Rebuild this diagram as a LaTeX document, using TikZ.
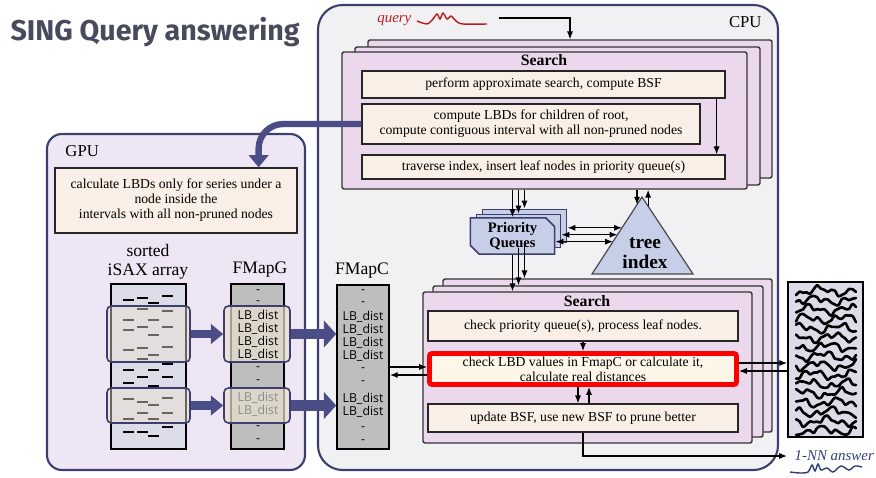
\documentclass[tikz,border=0pt]{standalone}
\usepackage{fontspec}
\setmainfont{Liberation Serif}
\newfontfamily\lbfont{Open Sans}
\newfontfamily\titlefont{Fira Sans}
\usetikzlibrary{arrows.meta,calc,fit,positioning,shapes.misc}

\definecolor{navy}{HTML}{3C3F6E}
\definecolor{arrownavy}{HTML}{4A4D86}
\definecolor{cpufill}{HTML}{F1F1F4}
\definecolor{gpufill}{HTML}{EEE6F4}
\definecolor{layerpink}{HTML}{EBD8EC}
\definecolor{peach}{HTML}{F9EFE6}
\definecolor{cream}{HTML}{FDF6E9}
\definecolor{qblue}{HTML}{C7CFE8}
\definecolor{barg}{HTML}{BEBEBE}
\definecolor{isaxfill}{HTML}{DCDCE9}
\definecolor{hlbeige}{HTML}{E9E1D0}
\definecolor{titlegray}{HTML}{4A4A5E}
\definecolor{qred}{HTML}{B71C1C}
\definecolor{nnblue}{HTML}{2E3F7C}

\begin{document}
\begin{tikzpicture}[x=0.02cm, y=-0.02cm, line width=0.7pt,
  >={Latex[length=4.5pt,width=3.5pt]}]
\newlength{\pxu}
\setlength{\pxu}{0.02cm}

\tikzset{
  hostbox/.style = {draw=navy, line width=1.2pt, inner sep=0pt},
  layer/.style = {draw=black!80, fill=layerpink, rounded corners=1.2pt,
    line width=0.8pt, inner sep=0pt},
  stepbox/.style = {draw=black!85, fill=peach, line width=0.7pt, inner sep=0pt,
    align=center, font=\fontsize{7.8}{8.5}\selectfont},
  ttl/.style = {font=\bfseries\fontsize{9}{9}\selectfont},
  lbl/.style = {font=\fontsize{10}{10.8}\selectfont, align=center},
  bar/.style = {draw=black, line width=0.9pt, inner sep=0pt},
  hl/.style = {draw=navy, rounded corners=2.5pt, line width=0.9pt,
    fill=hlbeige, fill opacity=0.45, inner sep=0pt},
  lbd/.style = {font=\lbfont\fontsize{7}{7}\selectfont, inner sep=0pt},
  isaxmark/.style = {line width=1.7pt},
  tsline/.style = {line width=1.5pt, line cap=round, line join=round},
  card/.style = {chamfered rectangle, chamfered rectangle xsep=2.5pt,
    chamfered rectangle ysep=2.5pt,
    chamfered rectangle corners={north east,south west},
    draw=navy, fill=qblue, line width=0.9pt, inner sep=0pt,
    minimum width=48pt, minimum height=19pt},
  bigarrow/.style = {draw=arrownavy, line width=5pt,
    -{Triangle[length=7pt,width=11pt]}}
}

\useasboundingbox (0,0) rectangle (876,477);

\node[anchor=base west, text=titlegray, inner sep=0pt,
  font=\titlefont\bfseries\fontsize{16.3}{16.3}\selectfont] (title) at (10,40)
  {SING Query answering};

% host frames
\node[hostbox, fill=cpufill, rounded corners=14pt, fit={(318,5) (778,470)}] (cpu) {};
\node[hostbox, fill=gpufill, rounded corners=8.5pt, fit={(47,134) (305,470)}] (gpu) {};
\node[anchor=east, font=\fontsize{9.5}{10}\selectfont] (cpulbl) at (768,22) {CPU};
\node[anchor=west, font=\fontsize{9.5}{10}\selectfont] (gpulbl) at (59,151) {GPU};

% upper search stack
\node[layer, fit={(368,40) (772,178)}] (srchb) {};
\node[layer, fit={(355,47) (760,185)}] (srchm) {};
\node[layer, fit={(342,52) (747,189)}] (srchf) {};
\node[ttl] (srchttl) at (544,60) {Search};
\node[stepbox, minimum width=363\pxu, minimum height=27\pxu] (approx) at (543.5,84.5)
  {perform approximate search, compute BSF};
\node[stepbox, minimum width=338\pxu, minimum height=40\pxu] (cmpint) at (531,124)
  {compute LBDs for children of root,\\compute contiguous interval with all non-pruned nodes};
\node[stepbox, minimum width=363\pxu, minimum height=24\pxu] (trav) at (543.5,167)
  {traverse index, insert leaf nodes in priority queue(s)};
\coordinate (bsfdrop) at ($(approx.south east)+(-9,0)$);
\draw[->] (bsfdrop) -- (bsfdrop |- trav.north);

% query
\node[anchor=west, text=qred, inner sep=1pt,
  font=\itshape\fontsize{8.5}{9}\selectfont] (query) at (375,21) {query};
\draw[qred, line width=0.8pt] plot[smooth] coordinates {(417,21) (427,24) (433,19)
  (437,14) (440,19) (443,13) (447,19) (451,16) (456,21) (463,24) (487,24)};
\coordinate (qsrc) at (499,18);
\draw[->] (qsrc) -| (srchb.north);

% tree index
\coordinate (apex) at (642,197);
\coordinate (bl) at (592,274);
\coordinate (br) at (693,274);
\draw[fill=qblue, draw=black!70] (apex) -- (bl) -- (br) -- cycle;
\node[font=\bfseries\fontsize{11}{11.3}\selectfont, align=center] (tree) at (645,253)
  {tree\\index};
\coordinate (tin) at ($(apex)!0.1!(bl)$);
\coordinate (tout) at ($(apex)!0.12!(br)$);
\draw[->] (tin |- srchf.south) -- (tin);
\draw[->] (tout) -- (tout |- srchf.south);

% priority queues
\node[card] (pqb) at (524.5,226) {};
\node[card] (pqm) at (518.5,231) {};
\node[card, align=center, font=\bfseries\fontsize{8.3}{8.5}\selectfont] (pqf) at (512.5,236)
  {Priority\\Queues};
\foreach \c in {pqf,pqm,pqb}
  \draw[->] (srchf.south -| \c.north) -- (\c.north);
\coordinate (t1) at ($(apex)!0.40!(bl)$);
\coordinate (t2) at ($(apex)!0.49!(bl)$);
\coordinate (t3) at ($(apex)!0.58!(bl)$);
\draw[<->] (t1 -| pqb.east) -- (t1);
\draw[<->] (t2 -| pqm.east) -- (t2);
\draw[<->] (t3 -| pqf.east) -- (t3);

% lower search stack
\node[layer, fit={(443,279) (772,432)}] (lsrchb) {};
\node[layer, fit={(433,286) (763,437)}] (lsrchm) {};
\node[layer, fit={(423,292) (752,443)}] (lsrchf) {};
\foreach \c/\d in {pqf/lsrchf,pqm/lsrchm,pqb/lsrchb}
  \draw[->] (\c.south) -- (\c.south |- \d.north);
\node[ttl] (lsrchttl) at (587,301) {Search};
\node[stepbox, minimum width=310\pxu, minimum height=30\pxu] (chkpq) at (583,326)
  {check priority queue(s), process leaf nodes.};
\node[stepbox, fill=cream, draw=red, line width=2.8pt, rounded corners=1.5pt,
  minimum width=307\pxu, minimum height=31\pxu] (chklbd) at (583,369)
  {check LBD values in FmapC or calculate it,\\calculate real distances};
\node[stepbox, minimum width=310\pxu, minimum height=28\pxu] (upd) at (583,418)
  {update BSF, use new BSF to prune better};
\draw[->] (chkpq) -- (chklbd);
\coordinate (dn) at ($(upd.north)+(-5,0)$);
\coordinate (up) at ($(upd.north)+(6,0)$);
\draw[->] (dn |- chklbd.south) -- (dn);
\draw[->] (up) -- (up |- chklbd.south);

% answer
\node[anchor=west, text=nnblue, inner sep=4pt,
  font=\itshape\fontsize{8.5}{9}\selectfont] (nn) at (787,456) {1-NN answer};
\draw[->] (upd.south) |- (nn.west);
\draw[nnblue, line width=0.8pt] plot[smooth] coordinates {(790,472) (800,473) (808,472)
  (812,465) (815,471) (818,464) (821,470) (827,468) (833,472) (841,466) (849,470)
  (855,466) (862,467)};

% raw series
\node[bar, fill=isaxfill, fit={(788,282) (863,437)}] (raw) {};
\foreach \k in {0,...,15} {
  \pgfmathsetmacro\yb{291+9.3*\k}
  \draw[tsline] plot[smooth, domain=796:856, samples=18]
    (\x, {\yb+3*sin(9*(\x-790)+47*\k)+2.4*sin(23*(\x-790)+113*\k)+1.2*sin(61*(\x-790)+29*\k)});
}
\coordinate (toraw) at ($(chklbd.east)+(0,-6)$);
\coordinate (fromraw) at ($(chklbd.east)+(0,2)$);
\draw[->] (toraw) -- (toraw -| raw.west);
\draw[->] (fromraw -| raw.west) -- (fromraw);

% FMapC
\node[bar, fill=barg, fit={(337,285) (389,449)}] (fmapc) {};
\node[lbl] (fmapclbl) at (362,271) {FMapC};
\foreach \y/\t in {292/-,304/-,317/LB\_dist,330/LB\_dist,343/LB\_dist,356/LB\_dist,
  370/-,383/-,399/LB\_dist,412/LB\_dist,429/-,442/-}
  \node[lbd] at (363,\y) {\t};
\coordinate (tolbd) at ($(chklbd.west)+(0,-2)$);
\coordinate (fromlbd) at ($(chklbd.west)+(0,6)$);
\draw[->] (tolbd -| fmapc.east) -- (tolbd);
\draw[->] (fromlbd) -- (fromlbd -| fmapc.east);

% GPU side
\node[stepbox, minimum width=242\pxu, minimum height=65\pxu] (gtxt) at (176,200.5)
  {calculate LBDs only for series under a\\node inside the\\intervals with all non-pruned nodes};
\coordinate (gin) at ($(gtxt.north east)+(-39,0)$);
\draw[bigarrow, line width=3.6pt, rounded corners=14pt] (cmpint.west) -| (gin);

% sorted iSAX array
\node[bar, fill=isaxfill, fit={(111,284) (186,449)}] (isax) {};
\node[lbl] (isaxlbl) at (148,262) {sorted\\iSAX array};
\foreach \x/\y in {123/300,137/298,148/303,162/296,
  137/309,162/311,123/320,148/320,137/327,162/327,123/330,148/335,
  162/347,137/348,123/350,148/355,137/359,
  162/364,123/370,148/370,137/377,162/377,123/383,148/386,
  123/399,162/398,137/402,148/405,162/413,137/413,123/419,148/419,
  162/427,123/432,137/432,148/436}
  \draw[isaxmark] (\x,\y) -- ++(11,0);
\node[hl, fit={(107,306) (190,362)}] (isaxh1) {};
\node[hl, fit={(107,388) (190,423)}] (isaxh2) {};

% FMapG
\node[bar, fill=barg, fit={(231,284) (284,449)}] (fmapg) {};
\node[lbl] (fmapglbl) at (260,270) {FMapG};
\node[hl, fill opacity=0.7, fit={(224,306) (290,362)}] (fgh1) {};
\node[hl, fill opacity=0.7, fit={(224,388) (290,423)}] (fgh2) {};
\foreach \y/\t in {292/-,303/-,316/LB\_dist,329/LB\_dist,342/LB\_dist,355/LB\_dist,
  369/-,382/-,428/-,441/-}
  \node[lbd] at (258,\y) {\t};
\foreach \y in {398,411}
  \node[lbd, text=black!45] at (258,\y) {LB\_dist};

% transfers
\draw[bigarrow] (isaxh1) -- (fgh1);
\draw[bigarrow] (isaxh2) -- (fgh2);
\draw[bigarrow, line width=6pt, -{Triangle[length=7pt,width=15pt]}]
  (fgh1.east) -- (fgh1.east -| fmapc.west);
\draw[bigarrow, line width=6pt, -{Triangle[length=7pt,width=15pt]}]
  (fgh2.east) -- (fgh2.east -| fmapc.west);

\end{tikzpicture}
\end{document}
